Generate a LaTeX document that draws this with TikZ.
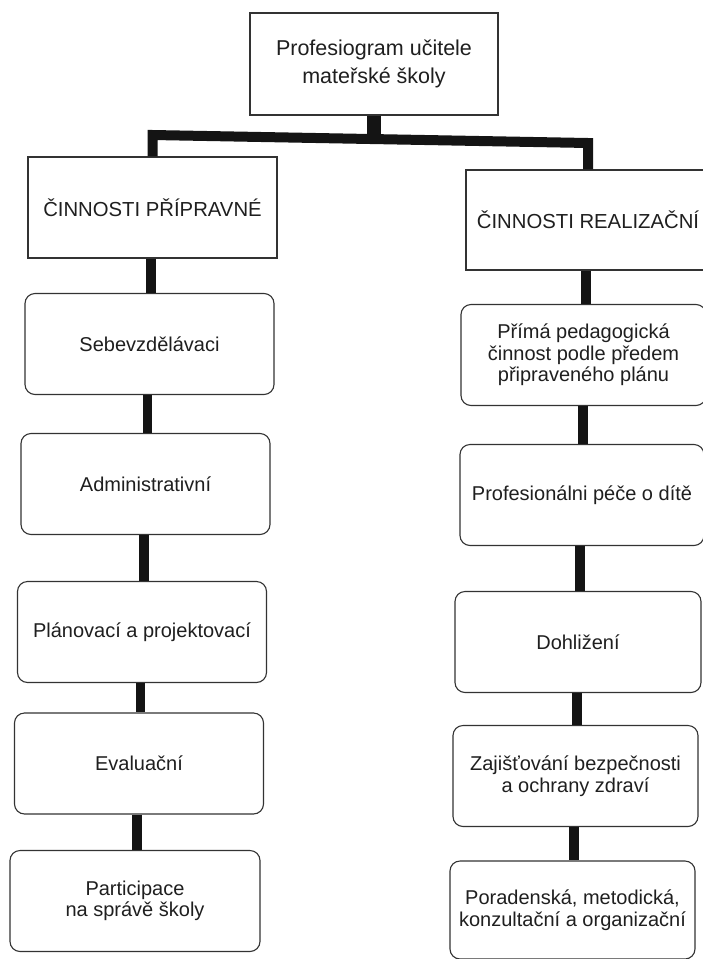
\documentclass[tikz,border=0pt]{standalone}
\usepackage{fontspec}
\setmainfont{Liberation Sans}
\usetikzlibrary{calc}
\begin{document}
\begin{tikzpicture}[x=1pt,y=-1pt,
  box/.style={draw=black!80, line width=1.1pt, fill=white, inner sep=0pt, align=center, text=black!88},
  sqbox/.style={box, rectangle},
  rbox/.style={box, rounded corners=10pt, minimum width=249pt, minimum height=101pt, font=\fontsize{20}{21.5}\selectfont},
  headfont/.style={font=\fontsize{20.3}{24}\selectfont},
  topfont/.style={font=\fontsize{21.5}{28}\selectfont},
  stem/.style={draw=black!92, line width=9.5pt},
  barline/.style={draw=black!92, line width=10pt, line join=miter}
]
\useasboundingbox (0,0) rectangle (703,959);
\clip (0,0) rectangle (703,959);

% top
\node[sqbox, topfont, minimum width=248pt, minimum height=102pt] (top) at (374,64) {Profesiogram učitele\\mateřské školy};

% headings
\node[sqbox, headfont, minimum width=249pt, minimum height=101pt] (L) at (152.5,207.5) {ČINNOSTI PŘÍPRAVNÉ};
\node[sqbox, headfont, minimum width=244pt, minimum height=100pt] (R) at (588,220) {ČINNOSTI REALIZAČNÍ};

% left column
\node[rbox] (L1) at (149.5,344) {Sebevzdělávaci};
\node[rbox] (L2) at (145.5,484) {Administrativní};
\node[rbox] (L3) at (142,632) {Plánovací a projektovací};
\node[rbox] (L4) at (139,763.5) {Evaluační};
\node[rbox, minimum width=250pt] (L5) at (135,901) {Participace\\na správě školy};

% right column
\node[rbox, minimum width=245pt] (R1) at (583.5,355) {Přímá pedagogická\\činnost podle předem\\připraveného plánu};
\node[rbox, minimum width=244pt] (R2) at (582,495) {Profesionálni péče o dítě};
\node[rbox, minimum width=246pt] (R3) at (578,642) {Dohližení};
\node[rbox, minimum width=245pt] (R4) at (575.5,776) {Zajišťování bezpečnosti\\a ochrany zdraví};
\node[rbox, minimum width=245pt, minimum height=98pt] (R5) at (572.5,910) {Poradenská, metodická,\\konzultační a organizační};

% connectors
\coordinate (bt) at (374,139);
\coordinate (bl) at (152.5,135);
\coordinate (br) at (588,143);
\draw[stem, line width=14pt] (top.south) -- (top.south |- bt);
\draw[barline] (L.north) -- (bl) -- (br) -- (R.north);

\foreach \a/\b in {L/L1, L1/L2, L2/L3, L3/L4, L4/L5, R/R1, R1/R2, R2/R3, R3/R4, R4/R5}{
  \coordinate (m) at ($(\a.south)!0.5!(\b.north)$);
  \draw[stem] (m |- \a.south) -- (m |- \b.north);
}
\end{tikzpicture}
\end{document}
